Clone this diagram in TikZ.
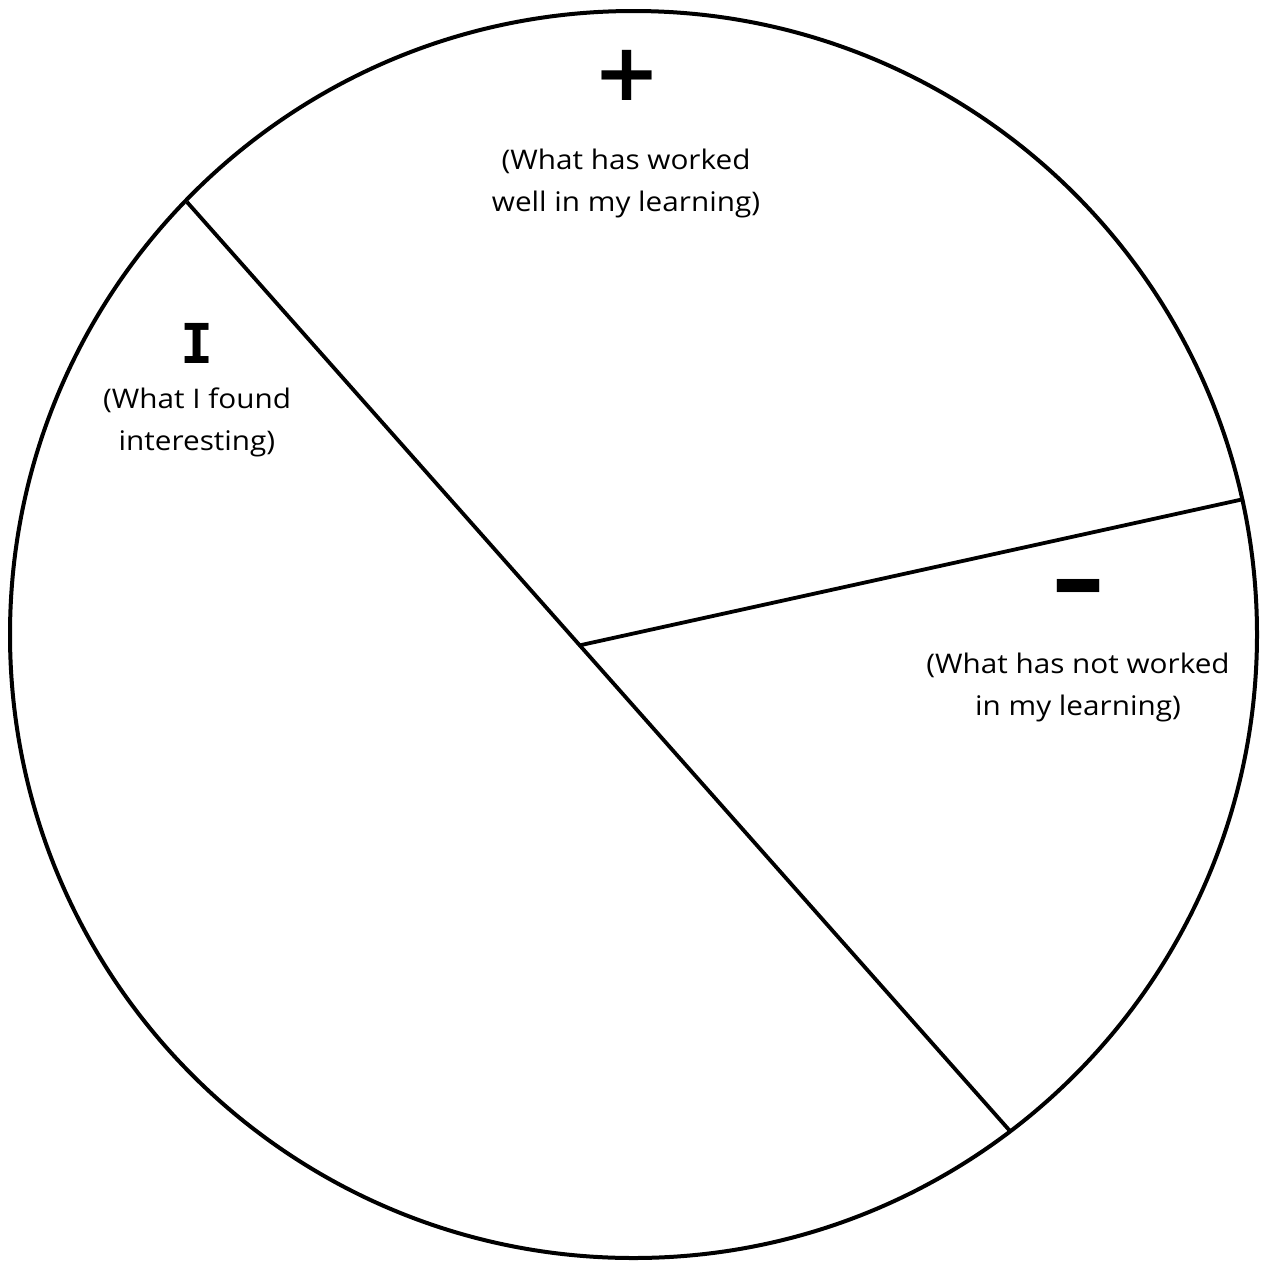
\documentclass[tikz,border=0pt]{standalone}
\usepackage{fontspec}
\setmainfont{Open Sans}
\newfontfamily\labelfont[FakeStretch=1.1]{Open Sans}
\newfontfamily\symfont{DejaVu Sans}
\newfontfamily\monofontb{DejaVu Sans Mono}
\usetikzlibrary{calc}
\begin{document}
\begin{tikzpicture}[x=1pt,y=-1pt,
  border/.style={line width=4pt},
  divider/.style={line width=3.8pt},
  label/.style={align=center,font=\labelfont\fontsize{27}{42}\selectfont,inner sep=0pt},
  sym/.style={inner sep=0pt}]
\useasboundingbox (0,0) rectangle (1264,1262);
\coordinate (O) at (633.5,634.5);
\draw[border] (O) circle[radius=623.5];
\coordinate (A) at (187,202);
\coordinate (B) at (1010,1131);
\coordinate (C) at (1244,499);
\coordinate (J) at ($(A)!0.4772!(B)$);
\draw[divider] (A) -- (B);
\draw[divider] (J) -- (C);
% plus
\node[sym] (plus) at (627,75) {\symfont\bfseries\fontsize{80}{80}\selectfont +};
\node[label] (plustext) at (626,183) {(What has worked\\well in my learning)};
% I
\node[sym] (itext) at (197,343) {\monofontb\bfseries\fontsize{55}{55}\selectfont I};
\node[label] (itextlab) at (197,422) {(What I found\\interesting)};
% minus
\node[sym] (minus) at (1078,597) {\scalebox{1.35}[1.3]{\symfont\bfseries\fontsize{80}{80}\selectfont \char"2013}};
\node[label] (minustext) at (1078,687) {(What has not worked\\in my learning)};
\end{tikzpicture}
\end{document}
